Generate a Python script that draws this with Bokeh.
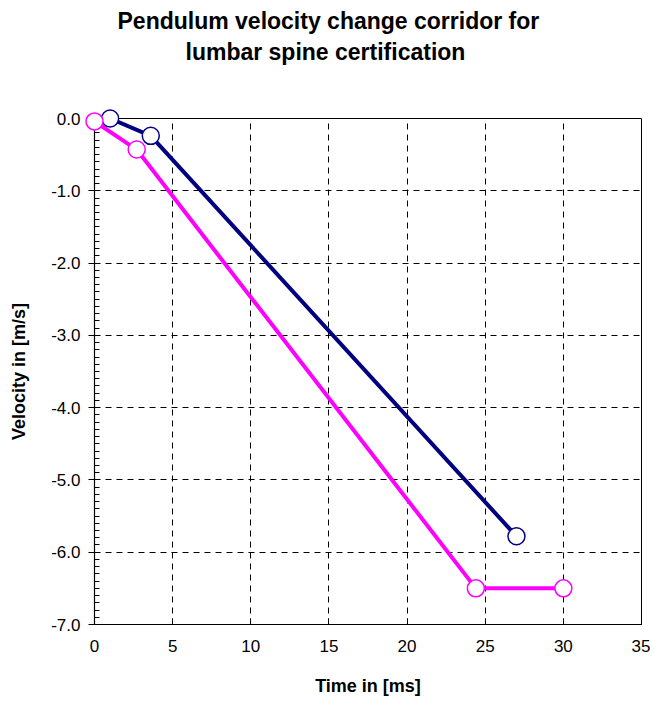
from bokeh.plotting import figure
from bokeh.models import Range1d, PrintfTickFormatter, FixedTicker, Title
from bokeh.embed import file_html
from bokeh.resources import INLINE

# Upper corridor (navy)
upper_t = [1.0, 3.6, 27.0]
upper_v = [0.0, -0.24, -5.78]
# Lower corridor (magenta)
lower_t = [0.0, 2.7, 24.4, 30.0]
lower_v = [-0.04, -0.43, -6.5, -6.5]

x_ticks = [0, 5, 10, 15, 20, 25, 30, 35]
y_ticks = [0, -1, -2, -3, -4, -5, -6, -7]
title_lines = ["Pendulum velocity change corridor for", "lumbar spine certification"]

FONT = "Liberation Sans"

p = figure(width=650, height=700, output_backend="svg", toolbar_location=None,
           x_range=Range1d(0, 35), y_range=Range1d(-7, 0),
           min_border_left=94, min_border_right=9, min_border_bottom=76, min_border_top=0)

p.title = None
def mk_title(txt, standoff, offset, size="23px"):
    return Title(text=txt, align="left", offset=offset, text_font=FONT, text_font_size=size,
                 text_font_style="bold", text_color="black", standoff=standoff)

spacer = mk_title(" ", 28, 0)
t2 = mk_title(title_lines[1], -4, 91)
t1 = mk_title(title_lines[0], 10, 23)
p.add_layout(spacer, "above")
p.add_layout(t2, "above")
p.add_layout(t1, "above")

p.outline_line_color = "black"
p.outline_line_width = 1
p.background_fill_color = "white"
p.border_fill_color = "white"

xa = p.xaxis[0]
ya = p.yaxis[0]
xa.ticker = FixedTicker(ticks=x_ticks)
ya.ticker = FixedTicker(ticks=y_ticks, minor_ticks=[-i / 10 for i in range(71) if i % 10])
ya.formatter = PrintfTickFormatter(format="%.1f")

for ax in (xa, ya):
    ax.axis_line_color = "black"
    ax.axis_line_width = 1.2
    ax.major_tick_line_color = "black"
    ax.minor_tick_line_color = "black"
    ax.major_label_text_font = FONT
    ax.major_label_text_font_size = "17px"
    ax.major_label_text_color = "black"
    ax.axis_label_text_font = FONT
    ax.axis_label_text_font_size = "18px"
    ax.axis_label_text_font_style = "bold"
    ax.axis_label_text_color = "black"

xa.axis_label = "Time in [ms]"
ya.axis_label = "Velocity in [m/s]"
xa.major_tick_in = 6
xa.major_tick_out = 0
xa.minor_tick_in = 0
xa.minor_tick_out = 0
xa.major_label_standoff = 15
xa.axis_label_standoff = 21
ya.major_tick_in = 0
ya.major_tick_out = 6
ya.minor_tick_in = 5
ya.minor_tick_out = 0
ya.major_label_standoff = 8
ya.axis_label_standoff = 19

for g in (p.xgrid[0], p.ygrid[0]):
    g.grid_line_color = "black"
    g.grid_line_dash = "6 5"
    g.grid_line_width = 1

p.line(upper_t, upper_v, line_color="#000080", line_width=4)
p.line(lower_t, lower_v, line_color="#FF00FF", line_width=4)
p.scatter(upper_t, upper_v, size=17, marker="circle", fill_color="white",
          line_color="#000080", line_width=1.5, level="overlay")
p.scatter(lower_t, lower_v, size=17, marker="circle", fill_color="white",
          line_color="#FF00FF", line_width=1.5, level="overlay")

open("out.html", "w").write(file_html(p, INLINE))
